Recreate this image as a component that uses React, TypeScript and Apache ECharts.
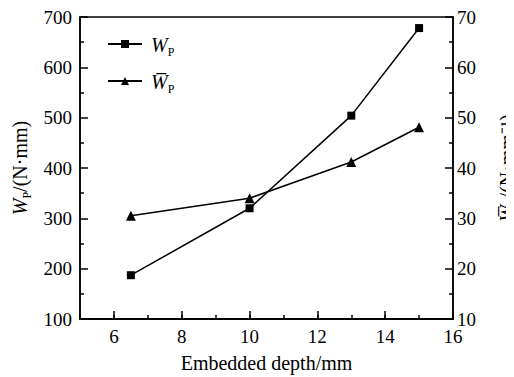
import React, { useEffect, useRef } from "react";
import * as echarts from "echarts";

// Embedded depth (mm) at each measured point
const depth = [6.5, 10, 13, 15];
// Total work W_P (N·mm)
const wp = [187, 320, 504, 678];
// Work per unit depth W̄_P (N·mm⁻¹)
const wpBar = [30.5, 34.0, 41.2, 48.1];

// Labelled depth values
const xMajor = [6, 8, 10, 12, 14, 16];

const FONT = "Liberation Serif";
const BLACK = "#000";
// the chart box sits inside the body's 8px margin
const M = 8;

const richStyles = () => ({
  w: { fontFamily: FONT, fontStyle: "italic", fontSize: 20, color: BLACK, lineHeight: 22, verticalAlign: "bottom" },
  p: { fontFamily: FONT, fontSize: 12, color: BLACK, lineHeight: 16, verticalAlign: "bottom", padding: [0, 0, -3, 0] },
  t: { fontFamily: FONT, fontSize: 20, color: BLACK, lineHeight: 22, verticalAlign: "bottom" },
});

const lineStyle = () => ({ color: BLACK, width: 1.5 });
const tickLabel = () => ({ fontFamily: FONT, fontSize: 19, color: BLACK });

export default function App() {
  const ref = useRef<HTMLDivElement>(null);
  useEffect(() => {
    if (!ref.current) return;
    const chart = echarts.init(ref.current, null, { renderer: "svg" });
    chart.setOption({
      animation: false,
      grid: {
        left: 80 - M,
        right: 61 + M,
        top: 17 - M,
        bottom: 58 + M,
        outerBoundsMode: "none",
        show: true,
        borderColor: BLACK,
        borderWidth: 1.5,
      },
      legend: {
        orient: "vertical",
        left: 102 - M,
        top: 30 - M,
        itemWidth: 34,
        itemHeight: 10,
        itemGap: 14,
        data: ["wp", "wpBar"],
        formatter: (name: string) =>
          name === "wp" ? "{w|W}{p|P}" : "{w|W\u0305}{p|P}",
        textStyle: { fontFamily: FONT, rich: richStyles(), padding: [0, 0, 0, 4] },
      },
      xAxis: [
        {
          // every millimetre gets a short tick; even values get labels
          type: "value",
          min: 5,
          max: 16,
          interval: 1,
          name: "Embedded depth/mm",
          nameLocation: "middle",
          nameGap: 34,
          nameTextStyle: { fontFamily: FONT, fontSize: 20, color: BLACK },
          axisLine: { show: true, lineStyle: lineStyle() },
          axisTick: { show: true, inside: true, length: 4, lineStyle: lineStyle() },
          axisLabel: { ...tickLabel(), margin: 8, customValues: xMajor },
          splitLine: { show: false },
        },
        {
          // longer ticks on the labelled values
          type: "value",
          min: 5,
          max: 16,
          position: "bottom",
          axisLine: { show: true, lineStyle: lineStyle() },
          axisTick: { show: true, inside: true, length: 8, lineStyle: lineStyle(), customValues: xMajor },
          axisLabel: { show: false },
          splitLine: { show: false },
        },
      ],
      yAxis: [
        {
          type: "value",
          min: 100,
          max: 700,
          interval: 100,
          position: "left",
          name: "{w|W}{p|P}{t|/(N·mm)}",
          nameLocation: "middle",
          nameGap: 48,
          nameRotate: 90,
          nameTextStyle: { fontFamily: FONT, rich: richStyles() },
          axisLine: { show: true, lineStyle: lineStyle() },
          axisTick: { show: true, inside: true, length: 8, lineStyle: lineStyle() },
          minorTick: { show: true, splitNumber: 2, length: 4, lineStyle: lineStyle() },
          axisLabel: { ...tickLabel(), margin: 8 },
          splitLine: { show: false },
        },
        {
          type: "value",
          min: 10,
          max: 70,
          interval: 10,
          position: "right",
          name: "{w|W\u0305}{p|P}{t|/(N·mm⁻¹)}",
          nameLocation: "middle",
          nameGap: 42,
          nameRotate: 90,
          nameTextStyle: { fontFamily: FONT, rich: richStyles() },
          axisLine: { show: true, lineStyle: lineStyle() },
          axisTick: { show: true, inside: true, length: 8, lineStyle: lineStyle() },
          minorTick: { show: true, splitNumber: 2, length: 4, lineStyle: lineStyle() },
          axisLabel: { ...tickLabel(), margin: 4 },
          splitLine: { show: false },
        },
      ],
      series: [
        {
          name: "wp",
          type: "line",
          xAxisIndex: 0,
          yAxisIndex: 0,
          data: depth.map((d, i) => [d, wp[i]]),
          symbol: "rect",
          symbolSize: 8,
          lineStyle: lineStyle(),
          itemStyle: { color: BLACK },
        },
        {
          name: "wpBar",
          type: "line",
          xAxisIndex: 0,
          yAxisIndex: 1,
          data: depth.map((d, i) => [d, wpBar[i]]),
          symbol: "triangle",
          symbolSize: 10,
          lineStyle: lineStyle(),
          itemStyle: { color: BLACK },
        },
      ],
    });
    return () => chart.dispose();
  }, []);
  return <div ref={ref} style={{ width: 514, height: 377 }} />;
}
